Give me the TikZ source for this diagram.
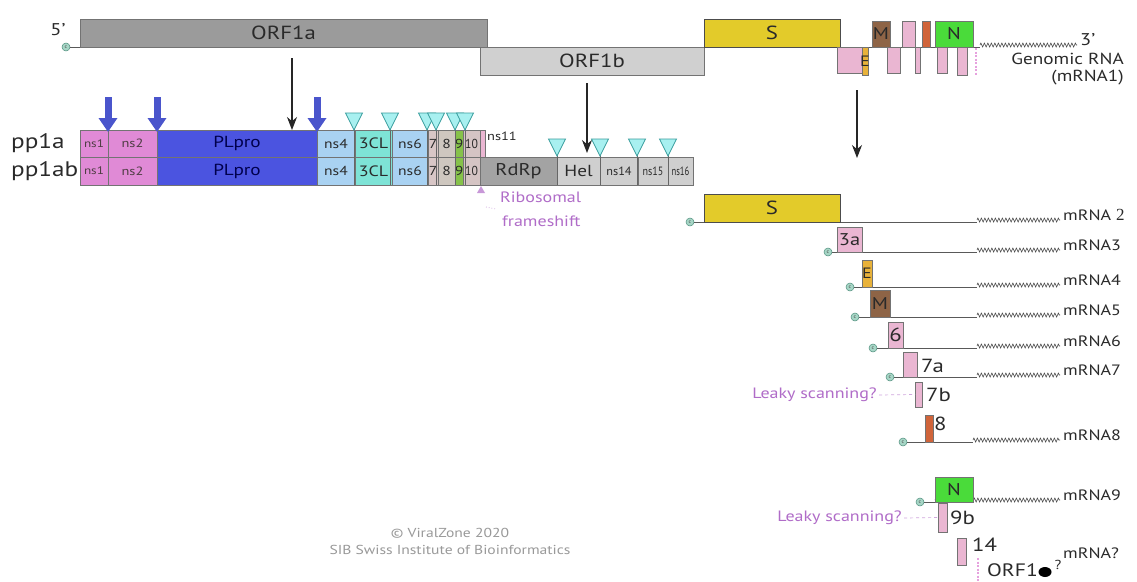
\documentclass[tikz,border=0pt]{standalone}
\usepackage{fontspec}
\setmainfont{PT Sans}[FakeStretch=1.2]
\newfontfamily\serifnum{Liberation Serif}
\usepackage{graphicx}
\usetikzlibrary{arrows.meta,decorations.pathmorphing,shapes.geometric}
\definecolor{cOa}{HTML}{9B9B9B}
\definecolor{cOb}{HTML}{D0D0D0}
\definecolor{cS}{HTML}{E3CB2A}
\definecolor{cM}{HTML}{8E6446}
\definecolor{cPk}{HTML}{EAB6D2}
\definecolor{cO}{HTML}{D0643A}
\definecolor{cN}{HTML}{4ADB3A}
\definecolor{cE}{HTML}{E8B23A}
\definecolor{cNs}{HTML}{E08AD6}
\definecolor{cPL}{HTML}{4B54E0}
\definecolor{cLB}{HTML}{A9D2F2}
\definecolor{cCL}{HTML}{7EE3D6}
\definecolor{cSev}{HTML}{D8C6C6}
\definecolor{cEig}{HTML}{CEC7BF}
\definecolor{cNin}{HTML}{86C24A}
\definecolor{cTen}{HTML}{D5C4C4}
\definecolor{cRd}{HTML}{A3A3A3}
\definecolor{cHel}{HTML}{CFCFCF}
\definecolor{cCap}{HTML}{A6D6C6}
\definecolor{cCapD}{HTML}{4F8F7E}
\definecolor{cPur}{HTML}{B06CC8}
\definecolor{cBlue}{HTML}{4A55CC}
\definecolor{cTri}{HTML}{A8F0F0}
\definecolor{cTriD}{HTML}{3A9E9E}
\definecolor{cTxt}{HTML}{2A2A2A}
\newcommand\fs[1]{\fontsize{#1}{#1}\selectfont}
% box: [opts]{name}{x1}{y1}{x2}{y2}{fill}{text}
\newcommand\gb[8][]{\node[gbox,fill=#7,minimum width={#5-#3},minimum height={#6-#4},#1] (#2) at ({(#3+#5)/2},{(#4+#6)/2}) {\makebox[0pt]{#8}};}
% cleavage marker: {x}{ytop}{ybottom}
\newcommand\clv[3]{\draw[clvl] (#1,#2+16) -- (#1,#3);
  \draw[clvt] (#1-8.5,#2) -- (#1+8.5,#2) -- (#1,#2+17) -- cycle;}
% mRNA: {name}{capx}{y}{lineend}{waveend}{labelx}{label}
\newcommand\mrna[7]{%
  \node[capnode] (#1c) at (#2,#3) {c};
  \coordinate (#1p) at (#4,#3);
  \coordinate (#1w) at (#5,#3);
  \draw[rna] (#1c.east) -- (#1p);
  \draw[polya] ([yshift=2pt]#1p) -- ([yshift=2pt]#1w);
  \node[lab,anchor=west] (#1l) at (#6,#3-7) {#7};}
\begin{document}
\begin{tikzpicture}[x=1pt,y=-1pt,
 gbox/.style={draw=black!55,line width=0.6pt,inner sep=0pt,outer sep=0pt,text=cTxt},
 capnode/.style={circle,fill=cCap,draw=cCapD,line width=0.5pt,minimum size=8pt,inner sep=0pt,font=\fs{5},text=black!70},
 rna/.style={draw=black!65,line width=0.9pt},
 polya/.style={draw=black!70,line width=0.6pt,decorate,decoration={zigzag,segment length=3.5pt,amplitude=2pt}},
 lab/.style={font=\fs{15},text=cTxt,inner sep=0pt},
 pur/.style={font=\fs{15},text=cPur,inner sep=0pt},
 blk/.style={draw=black!85,line width=1.1pt,-{Stealth[length=13pt,width=10pt]}},
 blu/.style={draw=cBlue,line width=7pt,-{Triangle[length=14pt,width=18pt]}},
 clvl/.style={draw=black!60,line width=0.7pt},
 clvt/.style={fill=cTri,draw=cTriD,line width=0.7pt},
 big/.style={font=\fs{19}},
]
\useasboundingbox (0,0) rectangle (1137,581);
\fill[white] (0,0) rectangle (1137,581);

%% genomic RNA
\node[capnode] (c0) at (66,47) {c};
\coordinate (p0) at (980,47);
\coordinate (w0) at (1077,47);
\draw[rna] (c0.east) -- (p0);
\draw[polya] ([yshift=2pt]p0) -- ([yshift=2pt]w0);
\node[lab,font=\fs{17}] (five) at (58,30) {5’};
\node[lab,font=\fs{17},anchor=west] (three) at (1080,40) {3’};
\node[lab,font=\fs{16},anchor=east] (gen) at (1124,59) {Genomic RNA};
\node[lab,font=\fs{16},anchor=east] (gen2) at (1124,78) {(mRNA1)};

\gb[font=\fs{19}]{orf1a}{80}{19}{487}{47}{cOa}{ORF1a}
\gb[font=\fs{19}]{orf1b}{480}{47}{704}{75}{cOb}{ORF1b}
\gb[big,draw=black!70]{gS}{704}{19}{840}{47}{cS}{S}
\gb[font=\fs{17}]{gM}{872}{21}{890}{47}{cM}{M}
\gb{g6}{902}{21}{915}{47}{cPk}{}
\gb{g8}{922}{21}{930}{47}{cO}{}
\gb[font=\fs{17}]{gN}{935}{21}{973}{47}{cN}{N}
\gb{g3a}{837}{47}{862}{73}{cPk}{}
\gb[font=\fs{15}]{gE}{862}{47}{868}{75}{cE}{E}
\gb{g7a}{887}{47}{900}{73}{cPk}{}
\gb{g7b}{915}{47}{920}{73}{cPk}{}
\gb{g9b}{937}{47}{947}{73}{cPk}{}
\gb{g14}{957}{47}{967}{75}{cPk}{}
\draw[draw=cNs!80,line width=2pt,dash pattern=on 2pt off 1.5pt] (976,48) -- (976,75);

%% arrows from genome
\coordinate (a1s) at (292,58); \coordinate (a1e) at (292,130);
\coordinate (a2s) at (587,83); \coordinate (a2e) at (587,153);
\coordinate (a3s) at (857,90); \coordinate (a3e) at (857,158);
\draw[blk] (a1s) -- (a1e);
\draw[blk] (a3s) -- (a3e);

%% polyproteins
\node[lab,font=\fs{21},anchor=west] (pp1a) at (11,143) {pp1a};
\node[lab,font=\fs{21},anchor=west] (pp1ab) at (11,171) {pp1ab};
\foreach \r/\ya/\yb in {a/130/157,b/157/185}{
 \gb[font=\fs{11},text=black!80!magenta]{ns1\r}{80}{\ya}{108}{\yb}{cNs}{ns1}
 \gb[font=\fs{12},text=black!80!magenta]{ns2\r}{108}{\ya}{157}{\yb}{cNs}{ns2}
 \gb[font=\fs{16},text=black!70!blue]{pl\r}{157}{\ya}{317}{\yb}{cPL}{PLpro}
 \gb[font=\fs{13}]{ns4\r}{317}{\ya}{355}{\yb}{cLB}{ns4}
 \gb[font=\fs{15}]{cl\r}{355}{\ya}{392}{\yb}{cCL}{3CL}
 \gb[font=\fs{13}]{ns6\r}{392}{\ya}{428}{\yb}{cLB}{ns6}
 \gb[font=\fs{13}]{n7\r}{428}{\ya}{438}{\yb}{cSev}{7}
 \gb[font=\fs{13}]{n8\r}{438}{\ya}{455}{\yb}{cEig}{8}
 \gb[font=\fs{13}]{n9\r}{455}{\ya}{463}{\yb}{cNin}{9}
 \gb[font=\fs{13}]{n10\r}{463}{\ya}{480}{\yb}{cTen}{\scalebox{0.75}[1]{10}}
}
\gb{ns11}{480}{130}{485}{157}{cPk}{}
\node[lab,font=\fs{12},anchor=west] (ns11l) at (487,136) {ns11};
\gb[font=\fs{17}]{rdrp}{480}{157}{557}{185}{cRd}{RdRp}
\gb[font=\fs{16}]{hel}{557}{157}{600}{185}{cHel}{Hel}
\gb[font=\fs{12}]{ns14}{600}{157}{638}{185}{cHel}{\scalebox{0.85}[1]{ns14}}
\gb[font=\fs{12}]{ns15}{638}{157}{668}{185}{cHel}{\scalebox{0.7}[1]{ns15}}
\gb[font=\fs{12}]{ns16}{668}{157}{693}{185}{cHel}{\scalebox{0.6}[1]{ns16}}
\draw[blk] (a2s) -- (a2e);

%% cleavage sites
\foreach \x in {354,390,427,436,455,465}{\clv{\x}{113}{185}}
\foreach \x in {557,600,637,668}{\clv{\x}{139}{185}}
\foreach \x in {108,157,317}{\draw[blu] (\x,97) -- (\x,132);}

%% ribosomal frameshift
\fill[cPur!70] (477,193) -- (485,193) -- (481,186) -- cycle;
\draw[cPur!50,dotted,line width=0.8pt] (486,207) -- (496,209);
\node[pur,anchor=west] (rib) at (500,197) {Ribosomal};
\node[pur,anchor=west] (fra) at (502,221) {frameshift};

%% subgenomic mRNAs
\mrna{m2}{690}{222}{977}{1060}{1063}{mRNA\hspace{5pt}{\serifnum\fs{17}2}}
\gb[big,draw=black!70]{s2}{704}{194}{840}{222}{cS}{S}
\mrna{m3}{828}{252}{977}{1060}{1063}{mRNA3}
\gb[font=\fs{17}]{s3}{837}{227}{862}{252}{cPk}{3a}
\mrna{m4}{850}{287}{977}{1060}{1063}{mRNA4}
\gb[font=\fs{15}]{s4}{862}{260}{872}{287}{cE}{E}
\mrna{m5}{855}{317}{977}{1060}{1063}{mRNA5}
\gb[font=\fs{17}]{s5}{870}{290}{890}{317}{cM}{M}
\mrna{m6}{873}{348}{977}{1060}{1063}{mRNA6}
\gb[big]{s6}{888}{322}{903}{348}{cPk}{6}
\mrna{m7}{890}{377}{977}{1060}{1063}{mRNA7}
\gb{s7}{903}{352}{917}{377}{cPk}{}
\node[lab,big,anchor=west] (l7a) at (921,366) {7a};
\gb{s7b}{915}{382}{922}{407}{cPk}{}
\node[lab,big,anchor=west] (l7b) at (926,395) {7b};
\node[pur,anchor=east] (leak1) at (877,395) {Leaky scanning?};
\draw[cPur!60,dashed,line width=0.7pt] (leak1.east) ++(2,0) -- (s7b.west);
\mrna{m8}{903}{442}{973}{1060}{1063}{mRNA8}
\gb{s8}{925}{415}{933}{442}{cO}{}
\node[lab,big,anchor=west] (l8) at (934,424) {8};
\mrna{m9}{920}{502}{935}{1060}{1063}{mRNA9}
\gb[font=\fs{17}]{s9}{935}{477}{973}{502}{cN}{N}
\gb{s9b}{938}{503}{947}{532}{cPk}{}
\node[lab,big,anchor=west] (l9b) at (950,518) {9b};
\node[pur,anchor=east] (leak2) at (902,518) {Leaky scanning?};
\draw[cPur!60,dashed,line width=0.7pt] (leak2.east) ++(2,0) -- (s9b.west);
\gb{s14}{957}{538}{966}{565}{cPk}{}
\node[lab,big,anchor=west] (l14) at (972,545) {14};
\node[lab,anchor=west] (m14l) at (1063,553) {mRNA?};
\draw[draw=cNs!80,line width=2pt,dash pattern=on 2pt off 1.5pt] (978,558) -- (978,581);
\node[lab,font=\fs{18},anchor=west] (orf10) at (987,570) {ORF1};
\node[ellipse,fill=black,minimum width=13pt,minimum height=10pt,inner sep=0pt] (blob) at (1045,572) {};
\node[lab,font=\fs{13}] (qm) at (1058,565) {?};

%% credits
\node[font=\fs{13},text=black!40] (cr1) at (450,533) {© ViralZone 2020};
\node[font=\fs{13},text=black!40] (cr2) at (450,550) {SIB Swiss Institute of Bioinformatics};
\end{tikzpicture}
\end{document}
